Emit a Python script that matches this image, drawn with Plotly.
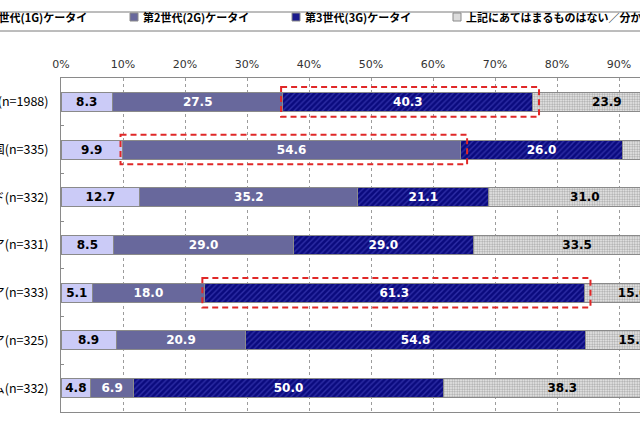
import plotly.graph_objects as go

# ---- data ----
categories = ["全体(n=1988)", "中国(n=335)", "インド(n=332)", "ロシア(n=331)",
              "インドネシア(n=333)", "マレーシア(n=325)", "ベトナム(n=332)"]
series_names = ["第1世代(1G)ケータイ", "第2世代(2G)ケータイ", "第3世代(3G)ケータイ",
                "上記にあてはまるものはない／分からない"]
gen1 = [8.3, 9.9, 12.7, 8.5, 5.1, 8.9, 4.8]
gen2 = [27.5, 54.6, 35.2, 29.0, 18.0, 20.9, 6.9]
gen3 = [40.3, 26.0, 21.1, 29.0, 61.3, 54.8, 50.0]
none_dk = [23.9, 9.5, 31.0, 33.5, 15.6, 15.4, 38.3]
tick_values = [0, 10, 20, 30, 40, 50, 60, 70, 80, 90, 100]
tick_labels = ["0%", "10%", "20%", "30%", "40%", "50%", "60%", "70%", "80%", "90%", "100%"]
highlights = [(0, 2), (1, 1), (4, 2)]  # (category index, series index)

# ---- styles ----
W, H = 640, 426
ML, MT, MB = 61, 78, 14
PW, PH = W - ML, H - MT - MB
X_MAX = PW / 6.2

colors = ["#cbcbf7", "#68689c", "#0b0b80", "#dcdcdc"]
text_colors = ["#000000", "#ffffff", "#ffffff", "#000000"]
patterns = [
    None,
    None,
    dict(shape="/", bgcolor="#0a0a7e", fgcolor="#2e2ea6", size=4, solidity=0.35, fillmode="replace"),
    dict(shape=".", bgcolor="#f2f2f2", fgcolor="#a8a8a8", size=2.5, solidity=0.5, fillmode="replace"),
]
all_series = [gen1, gen2, gen3, none_dk]

fig = go.Figure()
for i, vals in enumerate(all_series):
    marker = dict(color=colors[i], line=dict(color="#8a8a8a", width=1))
    if patterns[i]:
        marker["pattern"] = patterns[i]
    fig.add_trace(go.Bar(
        y=categories, x=vals, orientation="h", name=series_names[i],
        marker=marker,
        text=[f"{v:.1f}" for v in vals], textposition="inside",
        insidetextanchor="middle", textangle=0, constraintext="none",
        insidetextfont=dict(family="DejaVu Sans", size=12, color=text_colors[i], weight="bold"),
        cliponaxis=True, showlegend=False, hoverinfo="skip",
    ))

# red dashed highlight boxes computed from data
for ci, si in highlights:
    start = sum(all_series[k][ci] for k in range(si))
    end = start + all_series[si][ci]
    fig.add_shape(type="rect", xref="x", yref="y",
                  x0=start - 0.3, x1=end + 1.0, y0=ci - 0.31, y1=ci + 0.31,
                  line=dict(color="#e02828", width=2, dash="6px,4px"),
                  fillcolor="rgba(0,0,0,0)", layer="above")

# manual legend
def px_x(p):
    return (p - ML) / PW

def px_y(p):
    return (H - MB - p) / PH

leg_y = 17
for y_line in (12, 31):
    fig.add_shape(type="line", xref="paper", yref="paper",
                  x0=px_x(-20), x1=px_x(700), y0=px_y(y_line), y1=px_y(y_line),
                  line=dict(color="#7a7a7a", width=1))
sq_starts = [-32, 130, 292, 453]
for i, name in enumerate(series_names):
    s = sq_starts[i]
    fig.add_shape(type="rect", xref="paper", yref="paper",
                  x0=px_x(s), x1=px_x(s + 8), y0=px_y(leg_y + 4), y1=px_y(leg_y - 4),
                  fillcolor=colors[i] if i != 2 else "#1a1a8c",
                  line=dict(color="#8a8a8a", width=1))
    fig.add_annotation(xref="paper", yref="paper", x=px_x(s + 11), y=px_y(leg_y),
                       text=name, showarrow=False, xanchor="left", yanchor="middle",
                       font=dict(family="Noto Sans CJK JP", size=11, color="#000", weight="bold"))

fig.update_layout(
    width=W, height=H,
    margin=dict(l=ML, r=0, t=MT, b=MB, pad=0),
    barmode="stack", bargap=0.6,
    plot_bgcolor="#ffffff", paper_bgcolor="#ffffff",
    showlegend=False,
    xaxis=dict(side="top", range=[0, X_MAX], tickmode="array", tickvals=tick_values,
               ticktext=tick_labels,
               showgrid=True, griddash="dot", gridcolor="#9c9c9c", gridwidth=1,
               showline=True, linecolor="#8a8a8a", linewidth=1, mirror=True,
               ticks="", zeroline=False, automargin=False, fixedrange=True,
               ticklabelstandoff=5,
               tickfont=dict(family="DejaVu Sans", size=11, color="#333333")),
    yaxis=dict(type="category", autorange="reversed", showgrid=False,
               showline=True, linecolor="#8a8a8a", linewidth=1,
               ticks="inside", tickson="boundaries", ticklen=3, tickcolor="#8a8a8a",
               ticklabelstandoff=9, automargin=False, fixedrange=True,
               tickfont=dict(family="Noto Sans CJK JP", size=12.5, color="#000000")),
)

fig.write_html("out.html", config={"displayModeBar": False})
